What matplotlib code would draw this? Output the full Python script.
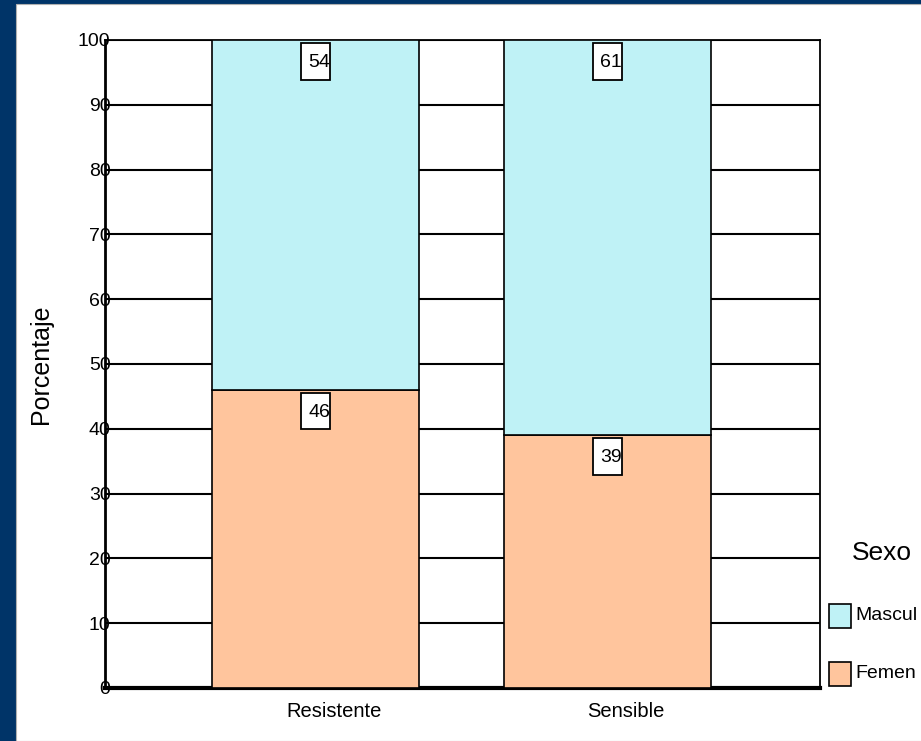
import matplotlib.pyplot as plt
import matplotlib.transforms as mtransforms
from matplotlib.patches import Rectangle
import numpy as np

plt.rcParams['font.family'] = ['Liberation Sans', 'DejaVu Sans']

categories = ['Resistente', 'Sensible']
femenino = [46, 39]
masculino = [54, 61]
# nombres tal como se ven (cortados en el original)
series_names = ['Mascul', 'Femen']
color_masc = '#BFF2F6'
color_fem = '#FFC59D'

fig = plt.figure(figsize=(9.21, 7.41), dpi=100)
fig.patch.set_facecolor('#003468')
fig.patches.append(Rectangle((16 / 921, 0), 1, (741 - 4) / 741, transform=fig.transFigure,
                             facecolor='white', edgecolor='#b0b0b0', linewidth=0.8, zorder=-10))

ax = fig.add_axes([105 / 921, 53 / 741, 715 / 921, 648 / 741])
ax.set_facecolor('white')

x = np.arange(len(categories))
w = 0.71
ax.bar(x, femenino, w, color=color_fem, edgecolor='black', linewidth=1.2, zorder=3)
ax.bar(x, masculino, w, bottom=femenino, color=color_masc, edgecolor='black', linewidth=1.2, zorder=3)

# etiquetas con caja (caja alta y estrecha, como en SPSS)
bw, bh = 0.0995, 5.7
for i in range(len(categories)):
    for val, top in [(femenino[i], femenino[i]), (masculino[i], 100)]:
        y0 = top - 0.4 - bh
        ax.add_patch(Rectangle((x[i] - bw / 2, y0), bw, bh, facecolor='white',
                               edgecolor='black', linewidth=1.3, zorder=4))
        ax.text(x[i] + 0.012, y0 + bh / 2 - 0.2, str(val), ha='center', va='center',
                fontsize=14, zorder=5)

ax.set_xlim(-0.722, 1.73)
ax.set_ylim(0, 100)
ax.set_yticks(range(0, 101, 10))
ax.yaxis.grid(True, color='black', linewidth=1.5, zorder=1)
ax.set_axisbelow(True)
ax.tick_params(axis='y', length=0, pad=-4, labelsize=14)
ax.set_xticks(x)
ax.set_xticklabels(categories, fontsize=14.5)
ax.tick_params(axis='x', length=0, pad=10)
offset = mtransforms.ScaledTranslation(19 / 100, 0, fig.dpi_scale_trans)
for lbl in ax.get_xticklabels():
    lbl.set_transform(lbl.get_transform() + offset)

for s in ['top', 'right']:
    ax.spines[s].set_linewidth(1.3)
ax.spines['left'].set_linewidth(2)
ax.spines['bottom'].set_linewidth(3)

ax.set_ylabel('Porcentaje', fontsize=18, labelpad=18)

# leyenda manual
fig.text(852 / 921, 1 - 553 / 741, 'Sexo', fontsize=19, ha='left', va='center')
colors = [color_masc, color_fem]
ys = [616, 674]
for name, c, yy in zip(series_names, colors, ys):
    fig.patches.append(Rectangle((829 / 921, 1 - (yy + 12) / 741), 22 / 921, 24 / 741,
                                 transform=fig.transFigure, facecolor=c, edgecolor='black', linewidth=1.2))
    fig.text(855 / 921, 1 - yy / 741, name, fontsize=14, ha='left', va='center')

fig.savefig('out.png', dpi=100, facecolor=fig.get_facecolor())
